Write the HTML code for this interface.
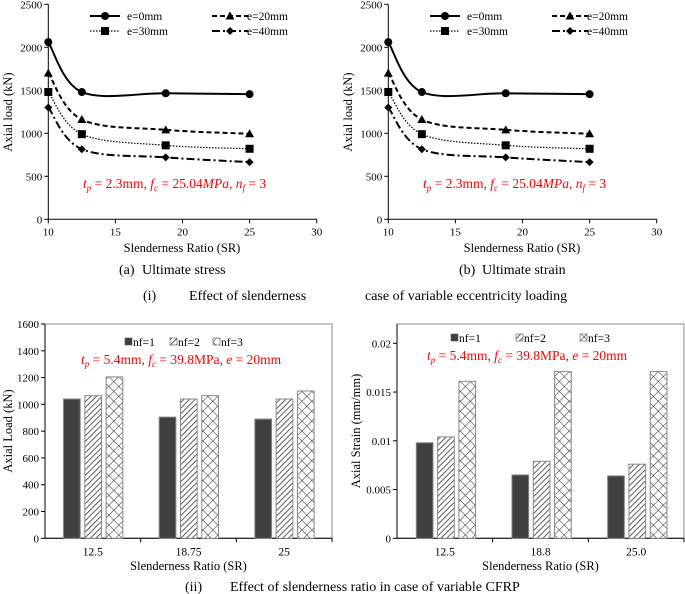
<!DOCTYPE html>
<html><head><meta charset="utf-8"><style>
body{margin:0;background:#fff}
svg{display:block}
svg text{font-family:"Liberation Serif",serif}
</style></head><body>
<svg id="s" width="685" height="594" viewBox="0 0 685 594">
<defs>
<pattern id="diag" patternUnits="userSpaceOnUse" width="4" height="4" patternTransform="rotate(45)"><rect width="4" height="4" fill="#fff"/><line x1="0" y1="0" x2="0" y2="4" stroke="#333" stroke-width="1.6"/></pattern>
<pattern id="cross" patternUnits="userSpaceOnUse" width="7" height="7" patternTransform="rotate(45)"><rect width="7" height="7" fill="#fff"/><line x1="0" y1="0" x2="0" y2="7" stroke="#333" stroke-width="1.1"/><line x1="0" y1="0" x2="7" y2="0" stroke="#333" stroke-width="1.1"/></pattern>
</defs>
<text x="119" y="274" font-size="14">(a)</text>
<text x="142" y="274" font-size="14">Ultimate stress</text>
<text x="459" y="274" font-size="14">(b)</text>
<text x="482" y="274" font-size="14">Ultimate strain</text>
<text x="143" y="300" font-size="14">(i)</text>
<text x="189" y="300" font-size="14">Effect of slenderness</text>
<text x="365" y="300" font-size="14">case of variable eccentricity loading</text>
<text x="185" y="591" font-size="14">(ii)</text>
<text x="230" y="591" font-size="14">Effect of slenderness ratio in case of variable CFRP</text>
</svg>
<script>
const NS="http://www.w3.org/2000/svg";
const svg=document.getElementById('s');
function el(tag,attrs,parent,txt){const e=document.createElementNS(NS,tag);for(const k in attrs)e.setAttribute(k,attrs[k]);if(txt!==undefined)e.textContent=txt;(parent||svg).appendChild(e);return e;}

// Line chart data
const lineX=[10,12.5,18.75,25];
const e0=[2060,1480,1465,1455];
const e20=[1700,1160,1040,995];
const e30=[1480,990,860,820];
const e40=[1300,815,720,665];
const lineXTicks=[10,15,20,25,30];
const lineYTicks=[0,500,1000,1500,2000,2500];
const seriesNames=['e=0mm','e=20mm','e=30mm','e=40mm'];

// Bar chart data
const barCats=['12.5','18.75','25'];
const loadNf1=[1040,905,890];
const loadNf2=[1065,1040,1040];
const loadNf3=[1205,1065,1100];
const loadTicks=[0,200,400,600,800,1000,1200,1400,1600];
const strainCats=['12.5','18.8','25.0'];
const strainNf1=[0.0098,0.0065,0.0064];
const strainNf2=[0.0104,0.0079,0.0076];
const strainNf3=[0.0161,0.0171,0.0171];
const strainTicks=[0,0.005,0.01,0.015,0.02];
const strainTickLabels=['0','0.005','0.01','0.015','0.02'];

function spline(pts){let d=`M${pts[0][0]},${pts[0][1]}`;const t=1/3;
 for(let i=0;i<pts.length-1;i++){const p0=pts[i-1]||pts[i],p1=pts[i],p2=pts[i+1],p3=pts[i+2]||p2;
  const c1=[p1[0]+(p2[0]-p0[0])*t/2,p1[1]+(p2[1]-p0[1])*t/2],c2=[p2[0]-(p3[0]-p1[0])*t/2,p2[1]-(p3[1]-p1[1])*t/2];
  d+=`C${c1[0]},${c1[1]} ${c2[0]},${c2[1]} ${p2[0]},${p2[1]}`;}return d;}
function marker(g,type,x,y){
 if(type==0)return el('circle',{cx:x,cy:y,r:4,fill:'#000'},g);
 if(type==1)return el('polygon',{points:`${x},${y-4.5} ${x+4.5},${y+3.5} ${x-4.5},${y+3.5}`,fill:'#000'},g);
 if(type==2)return el('rect',{x:x-4,y:y-4,width:8,height:8,fill:'#000'},g);
 return el('polygon',{points:`${x},${y-4} ${x+4},${y} ${x},${y+4} ${x-4},${y}`,fill:'#000'},g);}
const dashes=['','5,3','1.5,1.5','8,3,2,3'];
const widths=[2,2,1.2,2];

function lineChart(ox,name){
 const g=el('g',{},svg);
 
 
 const x0=ox+48.3,x1=ox+316.7,y0=219.3,y1=4.3;
 const sx=v=>x0+(v-10)/20*(x1-x0), sy=v=>y0-v/2500*(y0-y1);
 el('line',{x1:x0,y1:y1,x2:x0,y2:y0,stroke:'#000','stroke-width':1},g);
 el('line',{x1:x0,y1:y0,x2:x1,y2:y0,stroke:'#000','stroke-width':1},g);
 lineYTicks.forEach(v=>{el('line',{x1:x0-4,x2:x0,y1:sy(v),y2:sy(v),stroke:'#000'},g);
  const t=el('text',{x:x0-6,y:sy(v)+4,'font-size':11,'text-anchor':'end'},g,v);
  });
 lineXTicks.forEach(v=>{el('line',{x1:sx(v),x2:sx(v),y1:y0,y2:y0+4,stroke:'#000'},g);
  const t=el('text',{x:sx(v),y:y0+16,'font-size':11,'text-anchor':'middle'},g,v);
  });
 const xt=el('text',{x:ox+182,y:252,'font-size':12.5,'text-anchor':'middle'},g,'Slenderness Ratio (SR)');
 
 const yt=el('text',{x:0,y:0,'font-size':12.5,'text-anchor':'middle',transform:`translate(${ox+12},112) rotate(-90)`},g,'Axial load (kN)');
 
 [e0,e20,e30,e40].forEach((s,k)=>{
  const pts=s.map((v,i)=>[sx(lineX[i]),sy(v)]);
  const p=el('path',{d:spline(pts),fill:'none',stroke:'#000','stroke-width':widths[k],'stroke-dasharray':dashes[k]},g);
  
  pts.forEach(q=>{const m=marker(g,k,q[0],q[1]);});
  const lx=ox+(k%2?212:90),ly=k<2?16:31,lw=k%2?36:30;
  el('line',{x1:lx,x2:lx+lw,y1:ly,y2:ly,stroke:'#000','stroke-width':widths[k],'stroke-dasharray':dashes[k]},g);
  marker(g,k,lx+lw/2,ly);
  const lt=el('text',{x:ox+(k%2?247:127),y:ly+4,'font-size':11.5},g,seriesNames[k]);
  
 });
 const r=el('text',{x:ox+83,y:188,'font-size':13.5,fill:'#f00','font-style':'italic'},g);
 
 r.innerHTML='t<tspan font-size="9" dy="3">p</tspan><tspan dy="-3" font-style="normal"> = 2.3mm, </tspan>f<tspan font-size="9" dy="3">c</tspan><tspan dy="-3" font-style="normal"> = 25.04</tspan>MPa<tspan font-style="normal">, </tspan>n<tspan font-size="9" dy="3">f</tspan><tspan dy="-3" font-style="normal"> = 3</tspan>';
}
lineChart(0,'chart-ultimate-stress');
lineChart(340,'chart-ultimate-strain');

function barChart(opt){
 const g=el('g',{},svg);
 
 
 const x0=opt.x0,x1=opt.x1,y0=538.3,yTop=324,yMaxPix=opt.yMaxPix;
 const sy=v=>y0-v/opt.max*(y0-yMaxPix);
 el('rect',{x:x0,y:yTop,width:x1-x0,height:y0-yTop,fill:'none',stroke:'#888','stroke-width':1},g);
 el('line',{x1:x0,x2:x0,y1:yTop,y2:y0,stroke:'#000'},g);
 el('line',{x1:x0,x2:x1,y1:y0,y2:y0,stroke:'#000'},g);
 opt.ticks.forEach((v,i)=>{el('line',{x1:x0-4,x2:x0,y1:sy(v),y2:sy(v),stroke:'#000'},g);
  const t=el('text',{x:x0-6,y:sy(v)+4,'font-size':11,'text-anchor':'end'},g,opt.tickLabels?opt.tickLabels[i]:v);
  });
 const cw=(x1-x0)/opt.cats.length;
 const fills=['#404040','url(#diag)','url(#cross)'];
 opt.cats.forEach((c,i)=>{
  el('line',{x1:x0+cw*(i+1),x2:x0+cw*(i+1),y1:y0,y2:y0+4,stroke:'#000'},g);
  const t=el('text',{x:x0+cw*(i+.5),y:y0+17,'font-size':11.5,'text-anchor':'middle'},g,c);
  
  opt.series.forEach((s,k)=>{const bx=x0+cw*i+opt.off+k*21.3;
   const b=el('rect',{x:bx,y:sy(s[i]),width:16.7,height:y0-sy(s[i]),fill:fills[k],stroke:'#888','stroke-width':1},g);
   });
 });
 const xt=el('text',{x:(x0+x1)/2,y:570,'font-size':12.5,'text-anchor':'middle'},g,'Slenderness Ratio (SR)');
 
 const yt=el('text',{x:0,y:0,'font-size':12.5,'text-anchor':'middle',transform:`translate(${opt.ytx},${431}) rotate(-90)`},g,opt.ytitle);
 
 ['nf=1','nf=2','nf=3'].forEach((n,k)=>{const lx=opt.legX[k];
  el('rect',{x:lx,y:opt.legY-8,width:7,height:7,fill:fills[k],stroke:'#555','stroke-width':0.6},g);
  const t=el('text',{x:lx+8,y:opt.legY,'font-size':11.5},g,n);
  });
 const r=el('text',{x:opt.redX,y:opt.redY,'font-size':13.5,fill:'#f00','font-style':'italic'},g);
 
 r.innerHTML='t<tspan font-size="9" dy="3">p</tspan><tspan dy="-3" font-style="normal"> = 5.4mm, </tspan>f<tspan font-size="9" dy="3">c</tspan><tspan dy="-3" font-style="normal"> = 39.8MPa, </tspan>e<tspan font-style="normal"> = 20mm</tspan>';
}
barChart({name:'chart-axial-load-bars',x0:45,x1:332,max:1600,yMaxPix:324,ticks:loadTicks,cats:barCats,series:[loadNf1,loadNf2,loadNf3],off:18.5,ytx:12,ytitle:'Axial Load (kN)',legX:[125,170,213],legY:346,redX:81,redY:364});
barChart({name:'chart-axial-strain-bars',x0:397,x1:684,max:0.02,yMaxPix:343.3,ticks:strainTicks,tickLabels:strainTickLabels,cats:strainCats,series:[strainNf1,strainNf2,strainNf3],off:19.3,ytx:360,ytitle:'Axial Strain (mm/mm)',legX:[451,516,580],legY:342,redX:427,redY:360});
</script>
</body></html>
